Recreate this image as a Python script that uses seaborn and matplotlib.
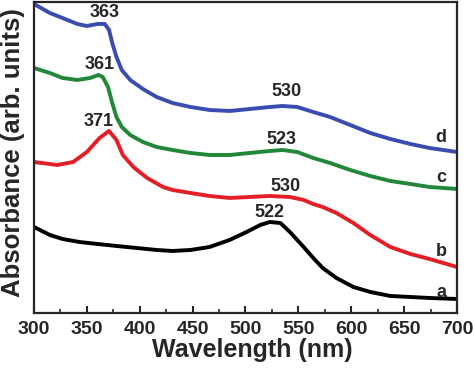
#!/usr/bin/env python3

import seaborn as sns
import matplotlib.pyplot as plt
from matplotlib.ticker import MultipleLocator

# UV-vis spectra (absorbance in arbitrary units)
wl_a = [300, 315, 327, 343, 360, 378, 397, 416, 431, 448, 466, 485, 501, 514,
        523, 533, 542, 555, 565, 573, 586, 602, 618, 637, 656, 674, 700]
abs_a = [0.86, 0.78, 0.74, 0.71, 0.69, 0.67, 0.65, 0.63, 0.62, 0.63, 0.66,
         0.73, 0.81, 0.88, 0.91, 0.90, 0.81, 0.66, 0.54, 0.45, 0.35, 0.26,
         0.21, 0.17, 0.16, 0.15, 0.14]

wl_b = [300, 322, 337, 350, 362, 371, 378, 384, 394, 407, 422, 431, 448, 466,
        485, 504, 523, 542, 555, 564, 573, 586, 602, 618, 637, 656, 674, 700]
abs_b = [1.51, 1.48, 1.51, 1.61, 1.75, 1.82, 1.73, 1.58, 1.46, 1.35, 1.26,
         1.23, 1.20, 1.17, 1.15, 1.16, 1.17, 1.16, 1.13, 1.09, 1.06, 1.00,
         0.90, 0.78, 0.66, 0.59, 0.54, 0.46]

wl_c = [300, 315, 327, 341, 353, 361, 365, 370, 374, 378, 383, 391, 403, 416,
        431, 448, 466, 485, 504, 523, 535, 549, 564, 580, 599, 618, 637, 656,
        674, 700]
abs_c = [2.45, 2.40, 2.35, 2.33, 2.35, 2.38, 2.36, 2.26, 2.10, 1.96, 1.86,
         1.78, 1.71, 1.66, 1.63, 1.60, 1.58, 1.58, 1.60, 1.62, 1.63, 1.61,
         1.55, 1.50, 1.43, 1.37, 1.32, 1.29, 1.26, 1.24]

wl_d = [300, 315, 327, 341, 350, 360, 367, 371, 374, 378, 383, 391, 403, 416,
        431, 448, 466, 485, 504, 523, 535, 549, 564, 580, 599, 618, 637, 656,
        674, 700]
abs_d = [3.09, 3.00, 2.95, 2.89, 2.87, 2.89, 2.89, 2.83, 2.70, 2.56, 2.43,
         2.33, 2.24, 2.16, 2.10, 2.06, 2.03, 2.02, 2.04, 2.06, 2.07, 2.06,
         2.01, 1.96, 1.88, 1.80, 1.74, 1.69, 1.65, 1.61]

# peak-position annotations (text, wavelength, absorbance)
peak_text = ["363", "361", "371", "530", "523", "530", "522"]
peak_x = [367, 362, 361, 539, 534, 538, 523]
peak_y = [3.00, 2.48, 1.91, 2.21, 1.73, 1.26, 1.00]

# curve letters at the right edge
curve_text = ["d", "c", "b", "a"]
curve_y = [1.75, 1.35, 0.61, 0.20]


def ShowSpectra():
    sns.set_style("ticks")
    plt.rcParams['font.family'] = ['Liberation Sans', 'DejaVu Sans']
    plt.rcParams['font.weight'] = 'bold'

    fig = plt.figure(figsize=(4.74, 3.68), dpi=100)
    ax = fig.add_axes([0.0717, 0.1495, 0.8924, 0.8451])

    style = dict(lw=2.8, solid_joinstyle="round", solid_capstyle="round", ax=ax)
    sns.lineplot(x=wl_a, y=abs_a, color="black", **style)
    sns.lineplot(x=wl_b, y=abs_b, color="#e41e26", **style)
    sns.lineplot(x=wl_c, y=abs_c, color="#23873a", **style)
    sns.lineplot(x=wl_d, y=abs_d, color="#3b4cb0", **style)

    for txt, xv, yv in zip(peak_text, peak_x, peak_y):
        ax.text(xv, yv, txt, ha="center", va="center", fontsize=13, fontweight="bold")
    for txt, yv in zip(curve_text, curve_y):
        ax.text(685, yv, txt, ha="center", va="center", fontsize=13, fontweight="bold")

    ax.set_xlim(300, 700)
    ax.set_ylim(0, 3.11)
    ax.xaxis.set_major_locator(MultipleLocator(50))
    ax.xaxis.set_minor_locator(MultipleLocator(25))
    ax.set_yticks([])
    ax.tick_params(axis="x", which="major", direction="in", length=5, width=1.5,
                   labelsize=14, pad=6)
    ax.tick_params(axis="x", which="minor", direction="in", length=3, width=1.2)
    for lab in ax.get_xticklabels():
        lab.set_fontweight("bold")
    for sp in ax.spines.values():
        sp.set_linewidth(1.6)

    ax.set_xlabel("Wavelength (nm)", fontsize=18, fontweight="bold")
    ax.set_ylabel("Absorbance (arb. units)", fontsize=18.5, fontweight="bold")
    ax.xaxis.set_label_coords(0.515, -0.08)
    ax.yaxis.set_label_coords(-0.05, 0.516)
    ax.yaxis.label.set_verticalalignment("center")

    fig.savefig("out.png", dpi=100)


if __name__ == "__main__":
    ShowSpectra()
